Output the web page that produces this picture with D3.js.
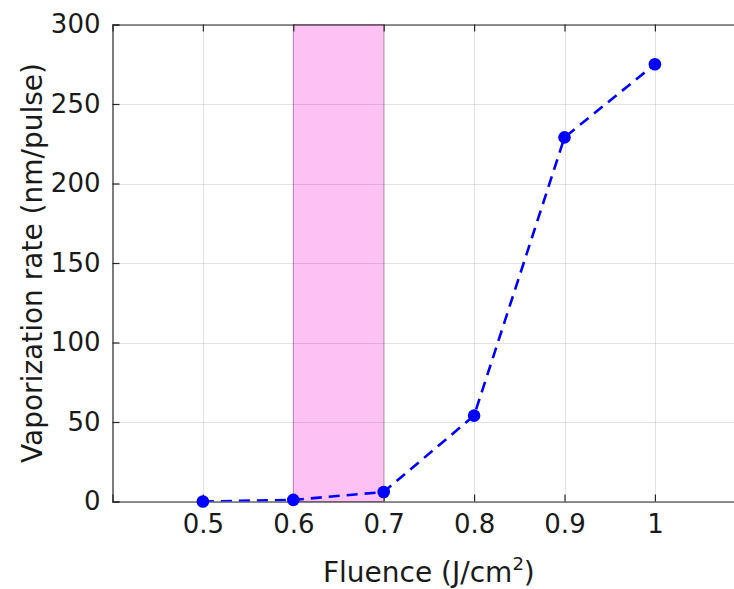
<!DOCTYPE html>
<html><head><meta charset="utf-8">
<script src="https://cdn.jsdelivr.net/npm/d3@7"></script>
<style>body{margin:0;background:#fff;} text{font-family:"DejaVu Sans",sans-serif;fill:#1a1a1a;}</style>
</head><body>
<svg id="c" width="734" height="589"></svg>
<script>
const fluence = [0.5, 0.6, 0.7, 0.8, 0.9, 1.0];
const rate = [0, 1, 6, 54, 229, 275];
const xTicks = [0.5, 0.6, 0.7, 0.8, 0.9, 1];
const yTicks = [0, 50, 100, 150, 200, 250, 300];
const band = [0.6, 0.7];

const svg = d3.select("#c");
const L = 112.5, T = 24.5, B = 501.5;
const x = d3.scaleLinear().domain([0.4, 1.1]).range([L, L + 7 * 90.4]);
const y = d3.scaleLinear().domain([0, 300]).range([B, T]);
const R = x(1.1);

svg.append("defs").append("clipPath").attr("id","clip").append("rect")
  .attr("x", L).attr("y", T).attr("width", R - L).attr("height", B - T);

// band
svg.append("rect").attr("x", x(band[0])).attr("y", T).attr("width", x(band[1]) - x(band[0])).attr("height", B - T)
  .attr("fill", "#fdc1f3").attr("stroke", "#c692bd").attr("stroke-width", 1);

// grid
const g = svg.append("g");
g.selectAll(".gx").data(xTicks).join("line").attr("x1", d => Math.round(x(d)) + 0.5).attr("x2", d => Math.round(x(d)) + 0.5)
  .attr("y1", T).attr("y2", B).attr("stroke", "#262626").attr("stroke-opacity", 0.13);
g.selectAll(".gy").data(yTicks).join("line").attr("y1", d => Math.round(y(d)) + 0.5).attr("y2", d => Math.round(y(d)) + 0.5)
  .attr("x1", L).attr("x2", R).attr("stroke", "#262626").attr("stroke-opacity", 0.13);

// axes
const xa = d3.axisBottom(x).tickValues(xTicks).tickSize(-7).tickPadding(13).tickFormat(d3.format("~g"));
const xg = svg.append("g").attr("transform", `translate(0,${B})`).call(xa);
const xt = d3.axisTop(x).tickValues(xTicks).tickSize(-7).tickFormat("");
const xtg = svg.append("g").attr("transform", `translate(0,${T})`).call(xt);
const ya = d3.axisLeft(y).tickValues(yTicks).tickSize(-7).tickPadding(12);
const yg = svg.append("g").attr("transform", `translate(${L},0)`).call(ya);
[xg, xtg, yg].forEach(a => {
  a.select(".domain").attr("stroke", "#262626").attr("stroke-width", 1.2);
  a.selectAll(".tick line").attr("stroke", "#262626").attr("stroke-width", 1.2);
  a.selectAll("text").style("font-size", "26px").style("font-family", "'DejaVu Sans',sans-serif").attr("fill", "#1a1a1a");
});

// line + points
const line = d3.line().x((d, i) => x(fluence[i])).y(d => y(d));
svg.append("path").datum(rate).attr("d", line).attr("fill", "none").attr("stroke", "#0000ff")
  .attr("stroke-width", 2.6).attr("stroke-dasharray", "11,7").attr("clip-path", "url(#clip)");
svg.selectAll(".pt").data(rate).join("circle").attr("cx", (d, i) => x(fluence[i])).attr("cy", d => y(d))
  .attr("r", 6.3).attr("fill", "#0000ff");

// labels
const xl = svg.append("text").attr("x", x(0.75)).attr("y", 582).attr("text-anchor", "middle").style("font-size", "28px");
xl.append("tspan").text("Fluence (J/cm");
xl.append("tspan").text("2").attr("dy", -12).style("font-size", "18px");
xl.append("tspan").text(")").attr("dy", 12);
svg.append("text").attr("transform", `translate(42,${(T + B) / 2}) rotate(-90)`).attr("text-anchor", "middle")
  .style("font-size", "28px").text("Vaporization rate (nm/pulse)");
</script>
</body></html>
